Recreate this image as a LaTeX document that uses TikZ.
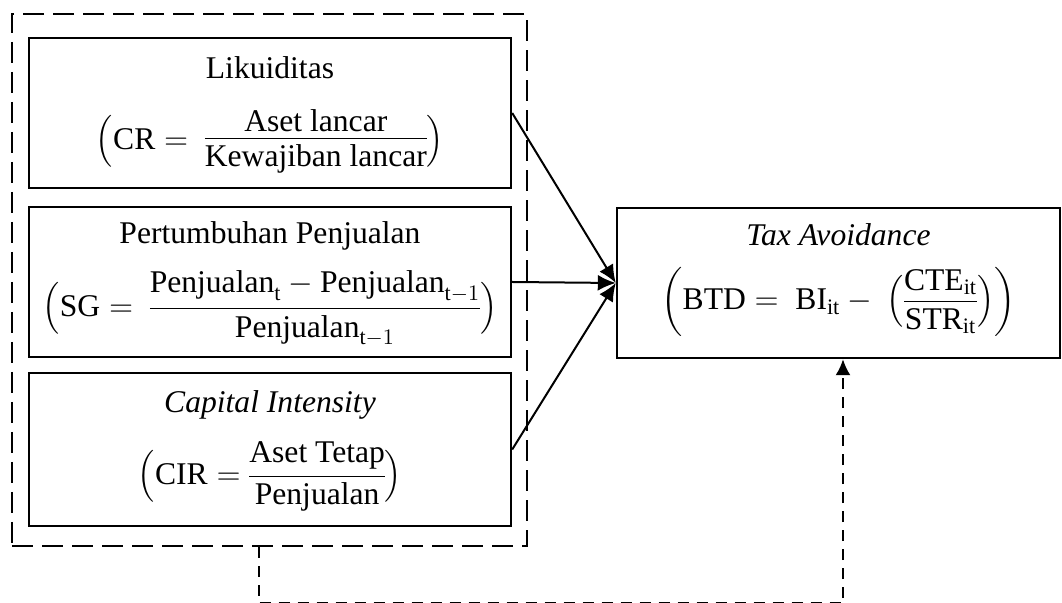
\RequirePackage{fix-cm}
\documentclass[tikz,border=0pt]{standalone}
\usepackage{amsmath}
\usepackage{fontspec}
\setmainfont{Liberation Serif}
\usetikzlibrary{arrows.meta}

% tight fraction, bar close to the text
\newcommand{\frc}[2]{\mathord{\vcenter{\offinterlineskip
  \halign{\hfil$\displaystyle##$\hfil\cr #1\cr
  \noalign{\kern3pt\hrule height 0.5pt\kern3pt}
  #2\cr}}}}

\begin{document}
\begin{tikzpicture}[x=0.5pt, y=-0.5pt,
                    font=\fontsize{15.8}{19}\selectfont,
                    var/.style n args={2}{draw, line width=1.2pt,
                    minimum width=#1, minimum height=#2,
                    inner sep=0pt},
                    txt/.style={anchor=base, inner sep=0pt},
                    grp/.style={draw, line width=1.1pt,
                    dash pattern=on 10.5pt off 4.5pt},
                    arr/.style={-{Latex[length=9pt,width=8pt]}, line width=1pt},
                    mod/.style={line width=1.1pt, dash pattern=on 5.5pt off 4pt}]
    \useasboundingbox (0,0) rectangle (1062,603);
    \clip (0,0) rectangle (1062,603);

    % dashed frame round the independent variables
    \node[grp, minimum width=257.5pt, minimum height=266pt](grp) at (269.5,280) {};

    \node[var={241pt}{75pt}](liq) at (270,113) {};
    \node[txt](liqt) at ([yshift=-21pt]liq.north) {Likuiditas};
    \node[txt](liqf) at ([yshift=-56.4pt]liq.north)
        {$\Bigl(\mathrm{CR} =\ \frc{\text{Aset lancar}}{\text{Kewajiban lancar}}\Bigr)$};

    \node[var={241pt}{75pt}](sg) at (270,282) {};
    \node[txt](sgt) at ([yshift=-19pt]sg.north) {Pertumbuhan Penjualan};
    \node[txt](sgf) at ([yshift=-55.4pt]sg.north)
        {$\Bigl(\mathrm{SG} =\ \frc{\text{Penjualan}_{\mathrm{t}} - \text{Penjualan}_{\mathrm{t}-1}}{\text{Penjualan}_{\mathrm{t}-1}}\Bigr)$};

    \node[var={241pt}{76.5pt}](cir) at (270,449.5) {};
    \node[txt](cirt) at ([yshift=-20.5pt]cir.north) {\textit{Capital Intensity}};
    \node[txt](cirf) at ([yshift=-56.4pt]cir.north)
        {$\Bigl(\mathrm{CIR} = \frc{\text{Aset Tetap}}{\text{Penjualan}}\Bigr)$};

    \node[var={221.5pt}{75pt}](ta) at (838.5,283) {};
    \node[txt](tat) at ([yshift=-19.5pt]ta.north) {\textit{Tax Avoidance}};
    \node[txt](taf) at ([yshift=-51.4pt]ta.north)
        {$\biggl(\mathrm{BTD} =\ \mathrm{BI}_{\mathrm{it}} -\ \Bigl(\frc{\mathrm{CTE}_{\mathrm{it}}}{\mathrm{STR}_{\mathrm{it}}}\Bigr)\biggr)$};

    \draw[arr] (liq.east) -- (ta.west);
    \draw[arr] (sg.east) -- (ta.west);
    \draw[arr] (cir.east) -- (ta.west);

    % moderating path
    \coordinate (m1) at (259,603.6);
    \draw[mod, -{Latex[length=8pt,width=7.5pt]}] (grp.south -| m1) -- (m1) -| ([xshift=2.25pt]ta.south);
\end{tikzpicture}
\end{document}
